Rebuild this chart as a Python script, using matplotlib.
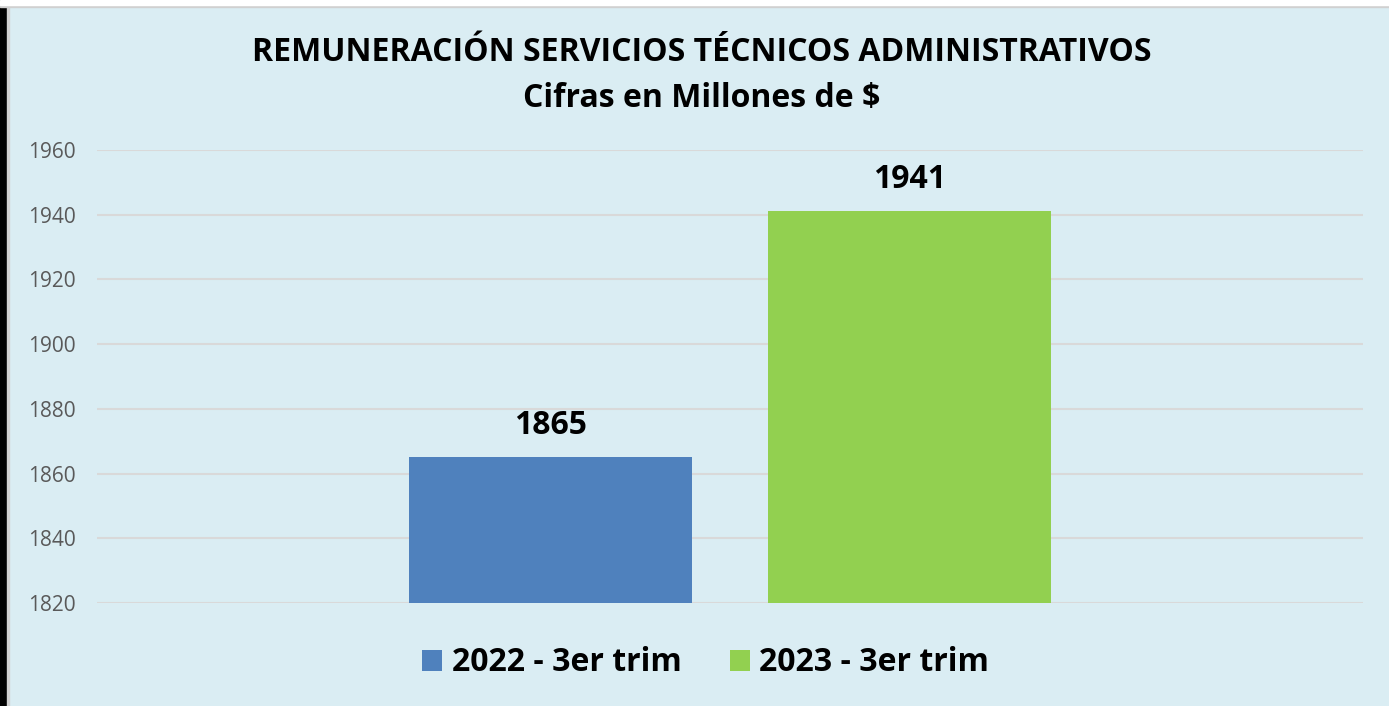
import numpy as np
import matplotlib
import matplotlib.pyplot as plt
from matplotlib.patches import Rectangle

# data
series = ["2022 - 3er trim", "2023 - 3er trim"]
values = [1865, 1941]
colors = ["#4F81BD", "#92D050"]
yticks = [1820, 1840, 1860, 1880, 1900, 1920, 1940, 1960]

BG = "#DAEDF3"
FONT = "Open Sans"

fig = plt.figure(figsize=(13.89, 7.06), dpi=100, facecolor=BG)
ax = fig.add_axes([0.0698, 0.1459, 0.9115, 0.6416])
ax.set_facecolor(BG)

width = 0.2235
offsets = [-0.142, 0.142]
rects = []
for i in range(len(series)):
    re = ax.bar(0 + offsets[i], values[i] - yticks[0], width, bottom=yticks[0],
                color=colors[i], label=series[i], zorder=3)
    ax.bar_label(re, labels=[str(values[i])], padding=11, fontsize=23,
                 fontweight="bold", family=FONT, color="black")
    rects.append(re)

ax.set_xlim(-0.5, 0.5)
ax.set_ylim(yticks[0], yticks[-1])
ax.set_yticks(yticks)
ax.set_xticks([])
ax.grid(axis="y", color="#D9D9D9", linewidth=1.5, zorder=0)
for s in ax.spines.values():
    s.set_visible(False)
ax.tick_params(axis="y", length=0, pad=15, labelsize=15, labelcolor="#595959")
for t in ax.get_yticklabels():
    t.set_family(FONT)

fig.text(0.505, 0.925, "REMUNERACIÓN SERVICIOS TÉCNICOS ADMINISTRATIVOS",
         ha="center", va="center", fontsize=23, fontweight="bold", family=FONT)
fig.text(0.505, 0.861, "Cifras en Millones de $",
         ha="center", va="center", fontsize=23, fontweight="bold", family=FONT)

leg = fig.legend(handles=rects, labels=series, loc="center", bbox_to_anchor=(0.508, 0.061),
                 ncol=2, frameon=False, handlelength=0.63, handleheight=0.63,
                 handletextpad=0.3, columnspacing=1.5,
                 prop={"family": FONT, "weight": "bold", "size": 23})

# chart frame edges
fig.patches.append(Rectangle((0, 0), 7 / 1389, 1, transform=fig.transFigure,
                             color="black", zorder=5))
fig.patches.append(Rectangle((7 / 1389, 0), 2 / 1389, 1, transform=fig.transFigure,
                             color="#D0D0D0", zorder=5))
fig.patches.append(Rectangle((0, 1 - 7 / 706), 1, 2 / 706, transform=fig.transFigure,
                             color="#D0D0D0", zorder=5))
fig.patches.append(Rectangle((0, 1 - 5 / 706), 1, 5 / 706, transform=fig.transFigure,
                             color="white", zorder=5))

fig.savefig("out.png", dpi=100, facecolor=BG)
